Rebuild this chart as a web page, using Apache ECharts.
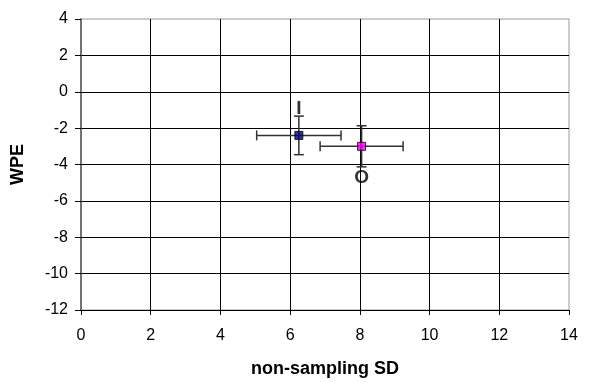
<!DOCTYPE html>
<html>
<head>
<meta charset="utf-8">
<script src="https://cdn.jsdelivr.net/npm/echarts@6/dist/echarts.min.js"></script>
<style>
  html, body { margin: 0; padding: 0; background: #fff; }
  #chart { width: 590px; height: 383px; }
</style>
</head>
<body>
<div id="chart"></div>
<script>
// data
var pointNames = ['I', 'O']
var sdValues = [6.25, 8.05]      // non-sampling SD
var wpeValues = [-2.4, -3.0]     // WPE
var sdErrors = [1.21, 1.19]      // +/- on x
var wpeErrors = [1.06, 1.13]     // +/- on y
var markerColors = ['#000080', '#ff00ff']
var labelSides = ['top', 'bottom']

var fontName = '"Liberation Sans", Arial, Helvetica, sans-serif'

var myChart = echarts.init(document.getElementById('chart'))

var errData = pointNames.map(function (n, i) {
  return [sdValues[i], wpeValues[i], sdErrors[i], wpeErrors[i]]
})

var pointData = pointNames.map(function (n, i) {
  return {
    name: n,
    value: [sdValues[i], wpeValues[i]],
    itemStyle: { color: markerColors[i] },
    label: {
      position: labelSides[i],
      distance: labelSides[i] === 'top' ? 13 : 17
    }
  }
})

// error bars with caps
function renderErr(params, api) {
  var x = api.value(0), y = api.value(1), ex = api.value(2), ey = api.value(3)
  var left = api.coord([x - ex, y])
  var right = api.coord([x + ex, y])
  var top = api.coord([x, y + ey])
  var bottom = api.coord([x, y - ey])
  var cap = 5
  var style = { stroke: '#333', lineWidth: 1.5 }
  return {
    type: 'group',
    children: [
      { type: 'line', shape: { x1: left[0], y1: left[1], x2: right[0], y2: right[1] }, style: style },
      { type: 'line', shape: { x1: left[0], y1: left[1] - cap, x2: left[0], y2: left[1] + cap }, style: style },
      { type: 'line', shape: { x1: right[0], y1: right[1] - cap, x2: right[0], y2: right[1] + cap }, style: style },
      { type: 'line', shape: { x1: top[0], y1: top[1], x2: bottom[0], y2: bottom[1] }, style: style },
      { type: 'line', shape: { x1: top[0] - cap, y1: top[1], x2: top[0] + cap, y2: top[1] }, style: style },
      { type: 'line', shape: { x1: bottom[0] - cap, y1: bottom[1], x2: bottom[0] + cap, y2: bottom[1] }, style: style }
    ]
  }
}

var option = {
  animation: false,
  textStyle: { fontFamily: fontName },
  grid: {
    left: 81, right: 21, top: 19, bottom: 72,
    show: true,
    borderColor: '#999',
    borderWidth: 1
  },
  xAxis: {
    type: 'value',
    min: 0, max: 14, interval: 2,
    name: 'non-sampling SD',
    nameLocation: 'middle',
    nameGap: 50,
    nameTextStyle: { fontSize: 18, fontWeight: 'bold', color: '#000', fontFamily: fontName },
    axisLine: { show: true, onZero: false, lineStyle: { color: '#000', width: 1 } },
    axisTick: { show: true, inside: false, length: 5, lineStyle: { color: '#000' } },
    axisLabel: { margin: 18, fontSize: 16, color: '#000', fontFamily: fontName },
    splitLine: { show: true, showMaxLine: false, showMinLine: false, lineStyle: { color: '#000', width: 1 } }
  },
  yAxis: {
    type: 'value',
    min: -12, max: 4, interval: 2,
    name: 'WPE',
    nameLocation: 'middle',
    nameGap: 54,
    nameTextStyle: { fontSize: 18, fontWeight: 'bold', color: '#000', fontFamily: fontName },
    axisLine: { show: true, onZero: false, lineStyle: { color: '#555', width: 1.5 } },
    axisTick: { show: true, inside: false, length: 6, lineStyle: { color: '#000' } },
    axisLabel: { margin: 13, fontSize: 16, color: '#000', fontFamily: fontName },
    splitLine: { show: true, showMaxLine: false, showMinLine: false, lineStyle: { color: '#000', width: 1 } }
  },
  series: [
    {
      type: 'custom',
      renderItem: renderErr,
      data: errData,
      z: 2
    },
    {
      type: 'scatter',
      symbol: 'rect',
      symbolSize: 8,
      data: pointData,
      itemStyle: { borderColor: '#000', borderWidth: 1 },
      label: {
        show: true,
        formatter: '{b}',
        fontSize: 19,
        fontWeight: 'bold',
        color: '#000',
        fontFamily: fontName
      },
      z: 3
    }
  ]
}

myChart.setOption(option)
</script>
</body>
</html>
